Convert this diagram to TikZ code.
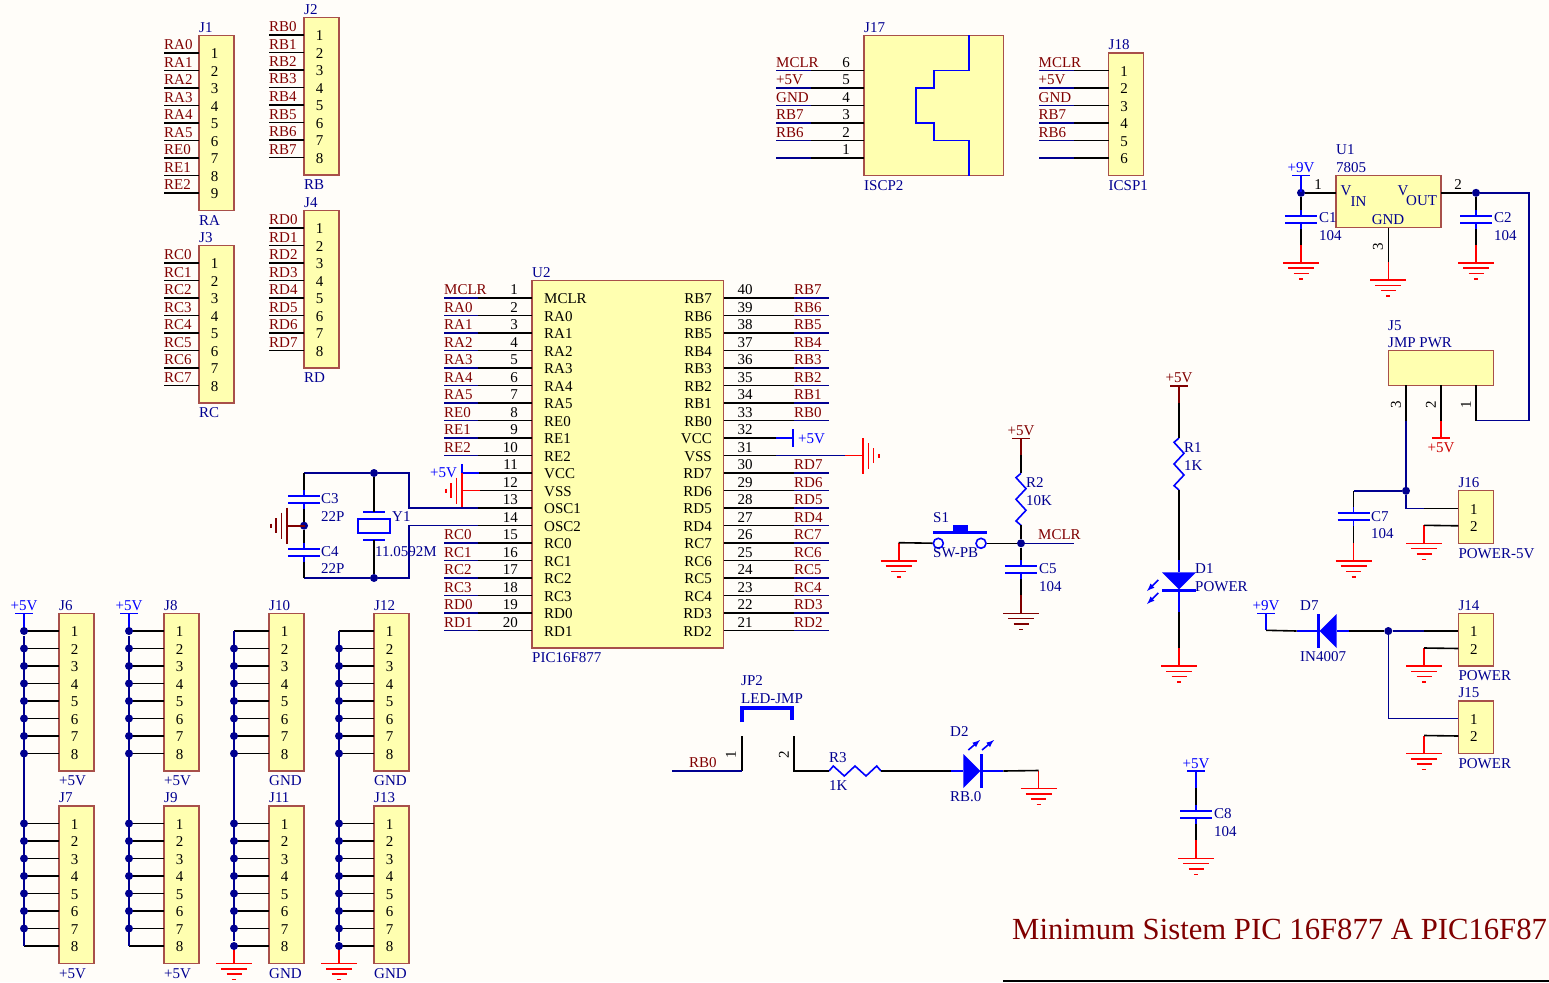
\documentclass[tikz,border=0pt]{standalone}
\usepackage{fontspec}
\setmainfont{Liberation Serif}
\usepackage{tikz}
\usetikzlibrary{positioning,calc}
\definecolor{paper}{HTML}{FFFDF9}
\definecolor{partyellow}{HTML}{FFFFB0}
\definecolor{partedge}{HTML}{A8504A}
\definecolor{netred}{HTML}{800000}
\definecolor{navyblue}{HTML}{000090}
\definecolor{symblue}{HTML}{0000FF}
\tikzset{
  wire/.style={draw=black,line width=1.6pt},
  netwire/.style={draw=navyblue,line width=1.6pt},
  symline/.style={line width=1.6pt},
  partbox/.style={draw=partedge,fill=partyellow,line width=1.3pt,inner sep=0pt,outer sep=0pt},
  partlbl/.style={text=navyblue,inner sep=0pt,anchor=west,yshift=-1pt,font=\fontsize{15}{18}\selectfont},
  netlbl/.style={text=netred,inner sep=0pt,anchor=base west,yshift=3.5pt,font=\fontsize{15}{18}\selectfont},
  pinnum/.style={text=black,inner sep=0pt,yshift=-1pt,font=\fontsize{15}{18}\selectfont},
  pinlbl/.style={pinnum,anchor=base,yshift=4.5pt},
  dot/.style={circle,fill=navyblue,inner sep=0pt,minimum size=8pt},
  swpin/.style={circle,draw=symblue,fill=paper,line width=1.6pt,inner sep=0pt,minimum size=10pt},
  gndsym/.pic={
    \coordinate (-top) at (0,-18);
    \draw[symline] (-top) -- (0,0);
    \draw[symline] (-18,0) -- (18,0);
    \draw[symline] (-13,5.3) -- (13,5.3);
    \draw[symline] (-7.5,10.6) -- (7.5,10.6);
    \draw[symline] (-2,16) -- (2,16);
  },
  pwrsym/.pic={
    \coordinate (-end) at (0,17);
    \draw[symline] (-9,0) -- (9,0);
    \draw[symline] (0,0) -- (-end);
  },
  capsym/.pic={
    \coordinate (-in) at (0,-6);
    \coordinate (-out) at (0,13);
    \draw[symline] (-in) -- (0,0);
    \draw[symline] (0,7) -- (-out);
    \draw[line width=1.9pt] (-16,0) -- (16,0);
    \draw[line width=1.9pt] (-16,7) -- (16,7);
  },
  ressym/.pic={
    \coordinate (-in) at (0,0);
    \coordinate (-out) at (52,0);
    \draw[symline] (-in) -- (4.3,-5) -- (15.3,5) -- (26,-5) -- (37,5) -- (47.7,-5) -- (-out);
  },
  diodesym/.pic={
    \coordinate (-in) at (-12,0);
    \coordinate (-out) at (40,0);
    \fill (0,-17) -- (0,17) -- (17,0) -- cycle;
    \draw[line width=3pt] (18.5,-17) -- (18.5,17);
    \draw[symline] (-in) -- (0,0);
    \draw[symline] (17,0) -- (-out);
  }
}
\newcommand{\hdr}[6]{%
  \pgfmathsetmacro\hh{(#4+1)*17.5}
  \pgfmathsetmacro\hy{#3-17.5}
  \node[partbox,anchor=north west,minimum width=35,minimum height=\hh] (#1) at (#2,\hy) {};
  \foreach \i in {1,...,#4} {
    \pgfmathsetmacro\py{#3+(\i-1)*17.5}
    \coordinate (#1-\i) at (#2,\py);
    \node[pinnum] (#1-n\i) at (#2+15.5,\py) {\i};
  }
  \node[partlbl] (#1-des) at ([yshift=9pt]#1.north west) {#5};
  \node[partlbl] (#1-val) at ([yshift=-9pt]#1.south west) {#6};
}
\newcommand{\pinwire}[4]{%
  \draw[wire] (#1-#2) -- ++(#3,0) coordinate (#1-m#2);
  \draw[netwire] (#1-m#2) -- ++(#4,0) coordinate (#1-w#2);
}
\newcommand{\netwires}[4]{%
  \foreach \i/\net in {#4} {
    \pinwire{#1}{\i}{#2}{#3}
    \node[netlbl] (#1-l\i) at (#1-w\i) {\net};
  }
}
\newcommand{\busdots}[2]{%
  \foreach \i in {#2} {
    \draw[wire] (#1-\i) -- ++(-35,0) node[dot] (#1-d\i) {};
  }
}
\begin{document}
\begin{tikzpicture}[x=1pt,y=-1pt]
\fill[paper] (0,0) rectangle (1549,982);
\useasboundingbox (0,0) rectangle (1549,982);

\hdr{J1}{199}{53}{9}{J1}{RA}
\hdr{J2}{304}{35}{8}{J2}{RB}
\hdr{J3}{199}{263}{8}{J3}{RC}
\hdr{J4}{304}{228}{8}{J4}{RD}
\netwires{J1}{-35}{0}{1/RA0,2/RA1,3/RA2,4/RA3,5/RA4,6/RA5,7/RE0,8/RE1,9/RE2}
\netwires{J2}{-35}{0}{1/RB0,2/RB1,3/RB2,4/RB3,5/RB4,6/RB5,7/RB6,8/RB7}
\netwires{J3}{-35}{0}{1/RC0,2/RC1,3/RC2,4/RC3,5/RC4,6/RC5,7/RC6,8/RC7}
\netwires{J4}{-35}{0}{1/RD0,2/RD1,3/RD2,4/RD3,5/RD4,6/RD5,7/RD6,8/RD7}

\node[partbox,anchor=north west,minimum width=139.5,minimum height=140] (J17) at (864,35.5) {};
\node[partlbl] (J17-des) at ([yshift=9pt]J17.north west) {J17};
\node[partlbl] (J17-val) at ([yshift=-9pt]J17.south west) {ISCP2};
\foreach \i in {1,...,6} {
  \pgfmathsetmacro\py{70.5+(6-\i)*17.5}
  \coordinate (J17-\i) at (864,\py);
  \node[pinlbl] (J17-n\i) at (846,\py) {\i};
}
\netwires{J17}{-53}{-35}{6/MCLR,5/+5V,4/GND,3/RB7,2/RB6}
\pinwire{J17}{1}{-53}{-35}
\coordinate (J17-a) at (969,35.5);
\coordinate (J17-b) at (969,175.5);
\draw[symblue,symline] (J17-a) -- (969,70.5) -- (934,70.5) -- (934,88) -- (916,88) -- (916,123) -- (934,123) -- (934,140.5) -- (969,140.5) -- (J17-b);
\hdr{J18}{1108.5}{70.5}{6}{J18}{ICSP1}
\netwires{J18}{-35}{-35}{1/MCLR,2/+5V,3/GND,4/RB7,5/RB6}
\pinwire{J18}{6}{-35}{-35}

\node[partbox,anchor=north west,minimum width=191.5,minimum height=367.5] (U2) at (532,280.5) {};
\node[partlbl] (U2-des) at ([yshift=9pt]U2.north west) {U2};
\node[partlbl] (U2-val) at ([yshift=-9pt]U2.south west) {PIC16F877};
\foreach \i/\pn in {1/MCLR,2/RA0,3/RA1,4/RA2,5/RA3,6/RA4,7/RA5,8/RE0,9/RE1,10/RE2,11/VCC,12/VSS,13/OSC1,14/OSC2,15/RC0,16/RC1,17/RC2,18/RC3,19/RD0,20/RD1} {
  \pgfmathsetmacro\py{298+(\i-1)*17.5}
  \coordinate (U2-\i) at (532,\py);
  \node[partlbl,text=black] (U2-p\i) at (544,\py) {\pn};
  \node[pinlbl,anchor=base east] (U2-n\i) at (518,\py) {\i};
}
\foreach \i/\pn in {40/RB7,39/RB6,38/RB5,37/RB4,36/RB3,35/RB2,34/RB1,33/RB0,32/VCC,31/VSS,30/RD7,29/RD6,28/RD5,27/RD4,26/RC7,25/RC6,24/RC5,23/RC4,22/RD3,21/RD2} {
  \pgfmathsetmacro\py{298+(40-\i)*17.5}
  \coordinate (U2-\i) at (723.5,\py);
  \node[partlbl,text=black,anchor=east] (U2-p\i) at (712,\py) {\pn};
  \node[pinlbl] (U2-n\i) at (745,\py) {\i};
}
\netwires{U2}{-54}{-34}{1/MCLR,2/RA0,3/RA1,4/RA2,5/RA3,6/RA4,7/RA5,8/RE0,9/RE1,10/RE2,15/RC0,16/RC1,17/RC2,18/RC3,19/RD0,20/RD1}
\foreach \i/\net in {40/RB7,39/RB6,38/RB5,37/RB4,36/RB3,35/RB2,34/RB1,33/RB0,30/RD7,29/RD6,28/RD5,27/RD4,26/RC7,25/RC6,24/RC5,23/RC4,22/RD3,21/RD2} {
  \pinwire{U2}{\i}{70.5}{35}
  \node[netlbl] (U2-l\i) at (U2-m\i) {\net};
}

\pic[symblue,rotate=90] (P11) at (461.7,473) {pwrsym};
\node[partlbl,text=symblue] (P11-l) at (430,472) {+5V};
\pic[red,rotate=-90] (G12) at (461.7,490.5) {gndsym};
\draw[wire] (U2-11) -- (P11-end);
\draw[wire] (U2-12) -- (G12-top);
\coordinate (U2-m13) at (478,508);
\coordinate (U2-w13) at (409,508);
\coordinate (U2-m14) at (478,525.5);
\coordinate (U2-w14) at (409,525.5);
\draw[wire] (U2-13) -- (U2-m13);
\draw[wire] (U2-14) -- (U2-m14);
\pic[symblue,rotate=-90] (P32) at (793,438) {pwrsym};
\node[partlbl,text=symblue] (P32-l) at (798,438) {+5V};
\draw[wire] (U2-32) -- (P32-end);
\pic[red,rotate=90] (G31) at (863,455.5) {gndsym};
\coordinate (U2-m31) at (776,455.5);
\draw[wire] (U2-31) -- (U2-m31);
\draw[netwire] (U2-m31) -- (G31-top);

\node[dot] (YT) at (374,473) {};
\node[dot] (YB) at (374,578) {};
\node[dot] (CD) at (304,525.7) {};
\coordinate (LT) at (304,473);
\coordinate (LB) at (304,578);
\coordinate (RT) at (409,473);
\coordinate (RB) at (409,578);
\draw[netwire] (LT) -- (YT) -- (RT) -- (U2-w13) -- (U2-m13);
\draw[netwire] (LB) -- (YB) -- (RB) -- (U2-w14) -- (U2-m14);
\pic[symblue] (C3) at (304,495.7) {capsym};
\pic[symblue] (C4) at (304,548.7) {capsym};
\draw[wire] (LT) -- (C3-in);
\draw[wire] (C3-out) -- (CD);
\draw[wire] (CD) -- (C4-in);
\draw[wire] (C4-out) -- (LB);
\pic[netred,rotate=-90] (G3) at (286.7,525.7) {gndsym};
\node[partlbl] (C3-des) at (321,498) {C3};
\node[partlbl] (C3-val) at (321,516) {22P};
\node[partlbl] (C4-des) at (321,551) {C4};
\node[partlbl] (C4-val) at (321,568) {22P};
\node[draw=symblue,line width=1.6pt,inner sep=0pt,minimum width=32,minimum height=14] (Y1) at (374,526) {};
\coordinate (Y1-a) at (374,511.7);
\coordinate (Y1-b) at (374,540);
\draw[symblue,symline] ([xshift=-11pt]Y1-a) -- ([xshift=11pt]Y1-a);
\draw[symblue,symline] ([xshift=-11pt]Y1-b) -- ([xshift=11pt]Y1-b);
\draw[wire] (YT) -- (Y1-a);
\draw[wire] (Y1-b) -- (YB);
\node[partlbl] (Y1-des) at (392,516) {Y1};
\node[partlbl] (Y1-val) at (375,551) {11.0592M};

\hdr{J6}{59}{631}{8}{J6}{+5V}
\hdr{J7}{59}{823.5}{8}{J7}{+5V}
\hdr{J8}{164}{631}{8}{J8}{+5V}
\hdr{J9}{164}{823.5}{8}{J9}{+5V}
\hdr{J10}{269}{631}{8}{J10}{GND}
\hdr{J11}{269}{823.5}{8}{J11}{GND}
\hdr{J12}{374}{631}{8}{J12}{GND}
\hdr{J13}{374}{823.5}{8}{J13}{GND}
\foreach \x/\a/\b in {24/J6/J7,129/J8/J9} {
  \pic[symblue] (P\a) at (\x,613.5) {pwrsym};
  \node[partlbl,text=symblue,anchor=center] (P\a-l) at (\x,605) {+5V};
  \busdots{\a}{1,...,8}
  \busdots{\b}{1,...,7}
  \draw[wire] (\b-8) -- ++(-35,0) coordinate (\b-d8);
  \draw[netwire] (\a-d1) -- (\b-d8);
}
\foreach \x/\a/\b in {234/J10/J11,339/J12/J13} {
  \pic[red] (G\b) at (\x,963.5) {gndsym};
  \busdots{\a}{2,...,8}
  \busdots{\b}{1,...,8}
  \draw[wire] (\a-1) -- ++(-35,0) coordinate (\a-d1);
  \draw[netwire] (\a-d1) -- (\b-d8);
}

\node[partbox,anchor=north west,minimum width=105,minimum height=52] (U1) at (1336,175.7) {};
\node[partlbl] (U1-des) at (1336,149) {U1};
\node[partlbl] (U1-val) at (1336,167) {7805};
\node[partlbl] (U1-v) at (1340.5,190) {V};
\node[partlbl] (U1-in) at (1350.5,201) {IN};
\node[partlbl] (U1-vo) at (1397.5,190) {V};
\node[partlbl] (U1-out) at (1406,200) {OUT};
\node[partlbl,anchor=center] (U1-gnd) at (1388,219) {GND};
\coordinate (U1-1) at (1336,192.8);
\coordinate (U1-2) at (1441,192.8);
\coordinate (U1-3) at (1388.3,227.7);
\node[dot] (VIN) at (1301,192.8) {};
\node[dot] (VOUT) at (1476,192.8) {};
\node[pinnum] (U1-n1) at (1318,184) {1};
\node[pinnum] (U1-n2) at (1458,184) {2};
\node[pinnum,rotate=90] (U1-n3) at (1378,246) {3};
\pic[symblue] (P9) at (1301,175.3) {pwrsym};
\node[partlbl,text=symblue,anchor=center] (P9-l) at (1301,167) {+9V};
\draw[wire] (U1-1) -- (VIN);
\draw[wire] (U1-2) -- (VOUT);
\pic[symblue] (C1) at (1301,216) {capsym};
\pic[symblue] (C2) at (1476,216) {capsym};
\pic[red] (G1) at (1301,262.7) {gndsym};
\pic[red] (G2) at (1476,262.7) {gndsym};
\pic[red] (G4) at (1388.3,280) {gndsym};
\draw[wire] (VIN) -- (C1-in);
\draw[wire] (C1-out) -- (G1-top);
\draw[wire] (VOUT) -- (C2-in);
\draw[wire] (C2-out) -- (G2-top);
\draw[wire] (U1-3) -- (G4-top);
\node[partlbl] (C1-des) at (1319,217) {C1};
\node[partlbl] (C1-val) at (1319,235) {104};
\node[partlbl] (C2-des) at (1494,217) {C2};
\node[partlbl] (C2-val) at (1494,235) {104};

\node[partbox,anchor=north west,minimum width=105,minimum height=34.7] (J5) at (1388.3,350.7) {};
\node[partlbl] (J5-des) at (1388,325) {J5};
\node[partlbl] (J5-val) at (1388,342) {JMP PWR};
\coordinate (J5-3) at (1406,385.4);
\coordinate (J5-2) at (1441,385.4);
\coordinate (J5-1) at (1476,385.4);
\node[pinnum,rotate=90] (J5-n3) at (1396,404) {3};
\node[pinnum,rotate=90] (J5-n2) at (1431,404) {2};
\node[pinnum,rotate=90] (J5-n1) at (1466,404) {1};
\coordinate (J5-c) at (1476,420.5);
\coordinate (J5-d) at (1528.7,420.5);
\coordinate (J5-e) at (1528.7,192.8);
\draw[netwire] (VOUT) -- (J5-e) -- (J5-d) -- (J5-c);
\draw[wire] (J5-c) -- (J5-1);
\pic[red,yscale=-1] (P5) at (1441,438) {pwrsym};
\node[partlbl,text=red!80!black,anchor=center] (P5-l) at (1441,447) {+5V};
\draw[wire] (J5-2) -- (P5-end);

\hdr{J16}{1458.3}{508.3}{2}{J16}{POWER-5V}
\hdr{J14}{1458.3}{631}{2}{J14}{POWER}
\hdr{J15}{1458.3}{718.5}{2}{J15}{POWER}
\node[dot] (V5) at (1406,490.8) {};
\coordinate (J5-f) at (1406,420.5);
\coordinate (J16-g) at (1406,508.3);
\coordinate (J16-m) at (1424,508.3);
\draw[wire] (J5-3) -- (J5-f);
\draw[netwire] (J5-f) -- (V5) -- (J16-g) -- (J16-m);
\draw[wire] (J16-m) -- (J16-1);
\foreach \a in {J16,J14,J15} {
  \pic[red] (G\a) at ($(\a-2)+(-34.3,17.5)$) {gndsym};
  \draw[wire] (\a-2) -- (G\a-top);
}
\coordinate (C7-t) at (1353.5,490.8);
\pic[symblue] (C7) at (1353.5,513.3) {capsym};
\pic[red] (G7) at (1353.5,560.7) {gndsym};
\draw[netwire] (V5) -- (C7-t);
\draw[wire] (C7-t) -- (C7-in);
\draw[wire] (C7-out) -- (G7-top);
\node[partlbl] (C7-des) at (1371,516) {C7};
\node[partlbl] (C7-val) at (1371,533) {104};

\pic[netred] (P1) at (1179,386) {pwrsym};
\node[partlbl,text=netred,anchor=center] (P1-l) at (1179,377) {+5V};
\pic[symblue,rotate=-90,yscale=-1] (R1) at (1179,438) {ressym};
\pic[symblue,rotate=-90] (D1) at (1179,572.3) {diodesym};
\pic[red] (G8) at (1179,666) {gndsym};
\draw[wire] (P1-end) -- (R1-in);
\draw[wire] (R1-out) -- (D1-in);
\draw[wire] (D1-out) -- (G8-top);
\coordinate (D1-a) at (1158.3,580);
\coordinate (D1-b) at (1147,591);
\coordinate (D1-c) at (1158.3,593);
\coordinate (D1-d) at (1147,604);
\draw[symblue,symline,-latex] (D1-a) -- (D1-b);
\draw[symblue,symline,-latex] (D1-c) -- (D1-d);
\node[partlbl] (R1-des) at (1184,447) {R1};
\node[partlbl] (R1-val) at (1184,465) {1K};
\node[partlbl] (D1-des) at (1195,568) {D1};
\node[partlbl] (D1-val) at (1195,586) {POWER};

\pic[symblue] (P7) at (1266,613.3) {pwrsym};
\node[partlbl,text=symblue,anchor=center] (P7-l) at (1266,605) {+9V};
\pic[symblue,rotate=180] (D7) at (1336.7,631) {diodesym};
\node[dot] (V9) at (1388.3,631) {};
\coordinate (J14-m) at (1424,631);
\coordinate (J15-k) at (1388.3,718.5);
\draw[wire] (P7-end) -- (D7-out);
\draw[wire] (D7-in) -- (V9);
\draw[netwire] (V9) -- (J14-m);
\draw[wire] (J14-m) -- (J14-1);
\draw[netwire] (V9) -- (J15-k) -- (J15-1);
\node[partlbl] (D7-des) at (1300,605) {D7};
\node[partlbl] (D7-val) at (1300,656) {IN4007};

\pic[netred] (P2) at (1021,438.3) {pwrsym};
\node[partlbl,text=netred,anchor=center] (P2-l) at (1021,430) {+5V};
\pic[symblue,rotate=-90,yscale=-1] (R2) at (1021,473.3) {ressym};
\node[dot] (RST) at (1021,543.3) {};
\pic[symblue] (C5) at (1021,565.7) {capsym};
\pic[netred] (G9) at (1021,613.3) {gndsym};
\pic[red] (G10) at (898.7,560.7) {gndsym};
\draw[wire] (P2-end) -- (R2-in);
\draw[wire] (R2-out) -- (RST);
\draw[wire] (RST) -- (C5-in);
\draw[wire] (C5-out) -- (G9-top);
\node[swpin] (S1-a) at (938.3,543.3) {};
\node[swpin] (S1-b) at (981,543.3) {};
\coordinate (S1-c) at (933,532);
\coordinate (S1-d) at (986.7,532);
\draw[symblue,line width=3pt] (S1-c) -- (S1-d);
\fill[symblue] (952.7,525) rectangle (968,532);
\draw[wire] (G10-top) -- (S1-a);
\draw[wire] (S1-b) -- (RST);
\coordinate (MC) at (1074,543.3);
\draw[netwire] (RST) -- (MC);
\node[netlbl] (MC-l) at (1038,543.3) {MCLR};
\node[partlbl] (S1-des) at (933,517) {S1};
\node[partlbl] (S1-val) at (933,552) {SW-PB};
\node[partlbl] (R2-des) at (1026,482) {R2};
\node[partlbl] (R2-val) at (1026,500) {10K};
\node[partlbl] (C5-des) at (1039,568) {C5};
\node[partlbl] (C5-val) at (1039,586) {104};

\node[partlbl] (JP2-des) at (741,680) {JP2};
\node[partlbl] (JP2-val) at (741,698) {LED-JMP};
\draw[symblue,line width=4.5pt] (742,722) -- (742,708) -- (792,708) -- (792,720);
\coordinate (JP2-1) at (741.7,736);
\coordinate (JP2-2) at (794,736);
\coordinate (JP2-a) at (741.7,771);
\coordinate (JP2-b) at (794,771);
\coordinate (JP2-w) at (671.5,771);
\node[pinnum,rotate=90] (JP2-n1) at (731,754) {1};
\node[pinnum,rotate=90] (JP2-n2) at (784,754) {2};
\draw[wire] (JP2-1) -- (JP2-a);
\draw[netwire] (JP2-a) -- (JP2-w);
\node[netlbl] (JP2-l) at (689,771) {RB0};
\pic[symblue] (R3) at (829,771) {ressym};
\pic[symblue] (D2) at (963.3,771) {diodesym};
\pic[red] (G11) at (1038.5,788.5) {gndsym};
\draw[wire] (JP2-2) -- (JP2-b) -- (R3-in);
\draw[wire] (R3-out) -- (D2-in);
\draw[wire] (D2-out) -- (G11-top);
\coordinate (D2-a) at (968.3,750);
\coordinate (D2-b) at (980,740);
\coordinate (D2-c) at (982,750);
\coordinate (D2-d) at (994,740);
\draw[symblue,symline,-latex] (D2-a) -- (D2-b);
\draw[symblue,symline,-latex] (D2-c) -- (D2-d);
\node[partlbl] (R3-des) at (829,757) {R3};
\node[partlbl] (R3-val) at (829,785) {1K};
\node[partlbl] (D2-des) at (950,731) {D2};
\node[partlbl] (D2-val) at (950,796) {RB.0};

\pic[symblue] (P8) at (1196,771) {pwrsym};
\node[partlbl,text=symblue,anchor=center] (P8-l) at (1196,763) {+5V};
\pic[symblue] (C8) at (1196,811) {capsym};
\pic[red] (G13) at (1196,858.3) {gndsym};
\draw[wire] (P8-end) -- (C8-in);
\draw[wire] (C8-out) -- (G13-top);
\node[partlbl] (C8-des) at (1214,813) {C8};
\node[partlbl] (C8-val) at (1214,831) {104};

\node[inner sep=0pt,anchor=base west,text=netred,font=\fontsize{30.7}{36}\selectfont] (title) at (1012,939) {Minimum Sistem PIC 16F877 A PIC16F87};
\coordinate (rule-a) at (1003,981);
\coordinate (rule-b) at (1549,981);
\draw[wire] (rule-a) -- (rule-b);
\end{tikzpicture}
\end{document}
